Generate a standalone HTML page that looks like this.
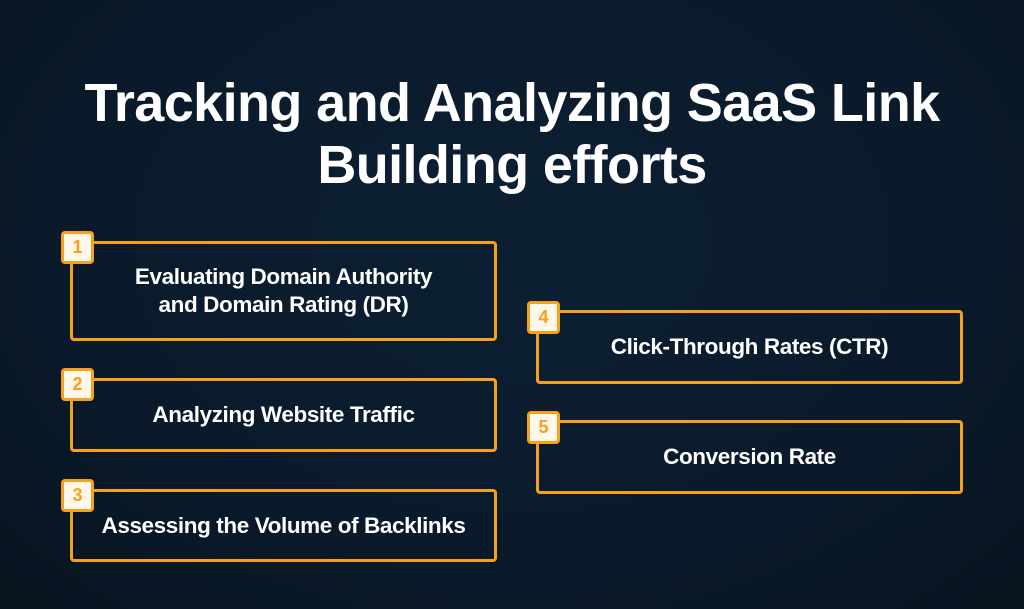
<!DOCTYPE html>
<html><head><style>
body{margin:0;width:1024px;height:609px;overflow:hidden;background:radial-gradient(ellipse at 50% 40%,#0c1f33 0%,#0a1a2b 60%,#08141f 100%);font-family:"Liberation Sans",sans-serif;position:relative}
.t{position:absolute;left:0;width:1024px;text-align:center;color:#fff;font-weight:bold;font-size:54px;letter-spacing:-0.6px;line-height:62px}
.b{position:absolute;border:3px solid #f5a11c;border-radius:4px;box-sizing:border-box;display:flex;align-items:center;justify-content:center;text-align:center;color:#fff;font-weight:bold;font-size:22.5px;line-height:28px;letter-spacing:-0.4px}
.n{position:absolute;width:33px;height:33px;box-sizing:border-box;background:#fff8ea;border:3px solid #f5a11c;border-radius:4px;color:#f5a11c;font-weight:bold;font-size:18px;display:flex;align-items:center;justify-content:center}
</style></head><body>
<div class="t" style="top:72px">Tracking and Analyzing SaaS Link</div>
<div class="t" style="top:134px">Building efforts</div>
<div class="b" style="left:70px;top:241px;width:427px;height:100px">Evaluating Domain Authority<br>and Domain Rating (DR)</div>
<div class="n" style="left:61px;top:231px">1</div>
<div class="b" style="left:70px;top:378px;width:427px;height:74px">Analyzing Website Traffic</div>
<div class="n" style="left:61px;top:368px">2</div>
<div class="b" style="left:70px;top:489px;width:427px;height:73px">Assessing the Volume of Backlinks</div>
<div class="n" style="left:61px;top:479px">3</div>
<div class="b" style="left:536px;top:310px;width:427px;height:74px">Click-Through Rates (CTR)</div>
<div class="n" style="left:527px;top:301px">4</div>
<div class="b" style="left:536px;top:420px;width:427px;height:74px">Conversion Rate</div>
<div class="n" style="left:527px;top:411px">5</div>
</body></html>
